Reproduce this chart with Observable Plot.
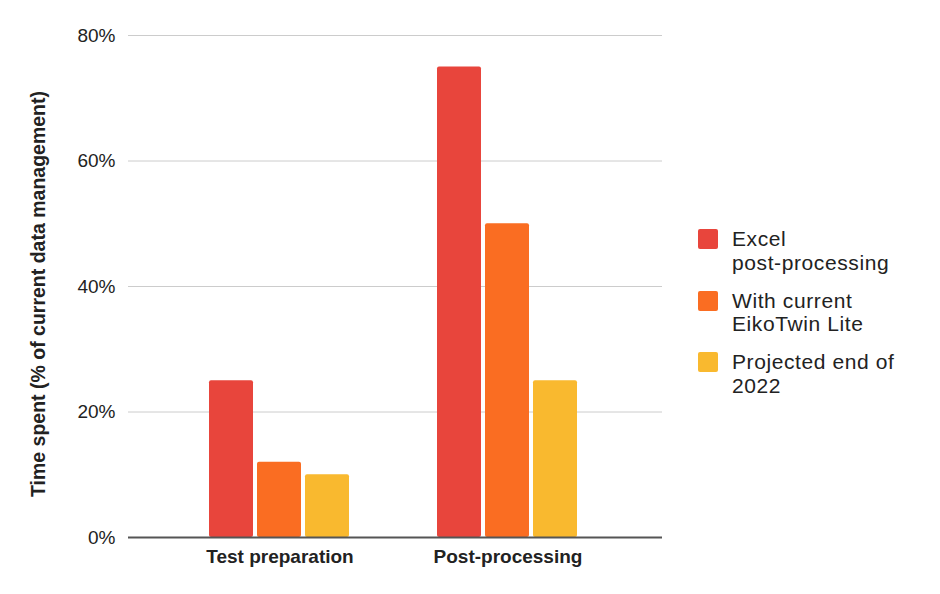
<!DOCTYPE html>
<html>
<head>
<meta charset="utf-8">
<script src="https://cdn.jsdelivr.net/npm/d3@7"></script>
<script src="https://cdn.jsdelivr.net/npm/@observablehq/plot@0.6"></script>
<style>
  html, body { margin: 0; padding: 0; background: #fff; }
  #wrap { position: relative; width: 940px; height: 594px; font-family: "Liberation Sans", Arial, sans-serif; }
  #wrap svg { position: absolute; left: 0; top: 0; }
  #legend { position: absolute; left: 698px; top: 227px; font-size: 21px; letter-spacing: 0.6px; color: #222; }
  .row { display: flex; align-items: flex-start; margin-bottom: 14.5px; }
  .sw { width: 20px; height: 20px; border-radius: 2px; margin-top: 2px; margin-right: 14px; flex: none; }
  .lab { width: 200px; line-height: 23.5px; }
  .lab span { white-space: nowrap; }
</style>
</head>
<body>
<div id="wrap"><div id="legend"></div></div>
<script>
// Task categories along the bottom
const categories = ["Test preparation", "Post-processing"];
// One series per workflow
const seriesNames = ["Excel post-processing", "With current EikoTwin Lite", "Projected end of 2022"];
const seriesColors = ["#E8453C", "#FA6D22", "#F9B92F"];
// Time spent, % of current data management, per category
const excelValues = [25, 75];
const currentValues = [12, 50];
const projectedValues = [10, 25];
// Y axis ticks
const yTicks = [0, 20, 40, 60, 80];
const yLabel = "Time spent (% of current data management)";

const seriesValues = [excelValues, currentValues, projectedValues];
const rows = [];
categories.forEach((c, i) => {
  seriesNames.forEach((s, j) => rows.push({category: c, series: s, value: seriesValues[j][i]}));
});

const font = "Liberation Sans, Arial, sans-serif";

// Shared frame so the stacked layers line up
const frame = {
  width: 680,
  height: 594,
  marginLeft: 128,
  marginRight: 18,
  marginTop: 35,
  marginBottom: 57,
  style: {fontFamily: font, color: "#222", background: "transparent"},
  y: {domain: [0, 80]}
};

// Back layer: horizontal gridlines across the whole frame
const grid = Plot.plot({
  ...frame,
  x: {axis: null},
  marks: [
    Plot.ruleY(yTicks.filter(d => d > 0), {stroke: "#ccc", strokeWidth: 1}),
    Plot.axisY({ticks: [], label: null})
  ]
});

// Middle layer: grouped bars, one facet per category
const bars = Plot.plot({
  ...frame,
  fx: {domain: categories, paddingInner: 0.374, paddingOuter: 0.3555, align: 0.49},
  x: {domain: seriesNames, paddingInner: 0.08, paddingOuter: 0, axis: null},
  color: {domain: seriesNames, range: seriesColors},
  marks: [
    Plot.barY(rows, {fx: "category", x: "series", y: "value", fill: "series", rx: 2}),
    Plot.axisY({ticks: [], label: null}),
    Plot.axisFx({anchor: "bottom", tickSize: 0, tickPadding: 12, fontSize: 19, fontWeight: "bold", label: null})
  ]
});

// Front layer: baseline, y axis and its title
const axes = Plot.plot({
  ...frame,
  x: {axis: null},
  marks: [
    Plot.ruleY([0], {stroke: "#555", strokeWidth: 2}),
    Plot.axisY({ticks: yTicks, tickFormat: d => d + "%", tickSize: 0, tickPadding: 13, fontSize: 19, label: null}),
    Plot.text([yLabel], {frameAnchor: "left", text: d => d, textAnchor: "middle", rotate: -90, dx: -90, dy: 7.5, fontSize: 19.5, fontWeight: "bold", fill: "#222"})
  ]
});

const wrap = document.getElementById("wrap");
wrap.prepend(grid, bars, axes);

// Legend: swatch plus wrapped label (words are kept whole)
const legend = document.getElementById("legend");
seriesNames.forEach((s, i) => {
  const row = document.createElement("div");
  row.className = "row";
  const sw = document.createElement("div");
  sw.className = "sw";
  sw.style.background = seriesColors[i];
  const lab = document.createElement("div");
  lab.className = "lab";
  s.split(" ").forEach((w, k) => {
    if (k > 0) lab.append(" ");
    const span = document.createElement("span");
    span.textContent = w;
    lab.append(span);
  });
  row.append(sw, lab);
  legend.append(row);
});
</script>
</body>
</html>
